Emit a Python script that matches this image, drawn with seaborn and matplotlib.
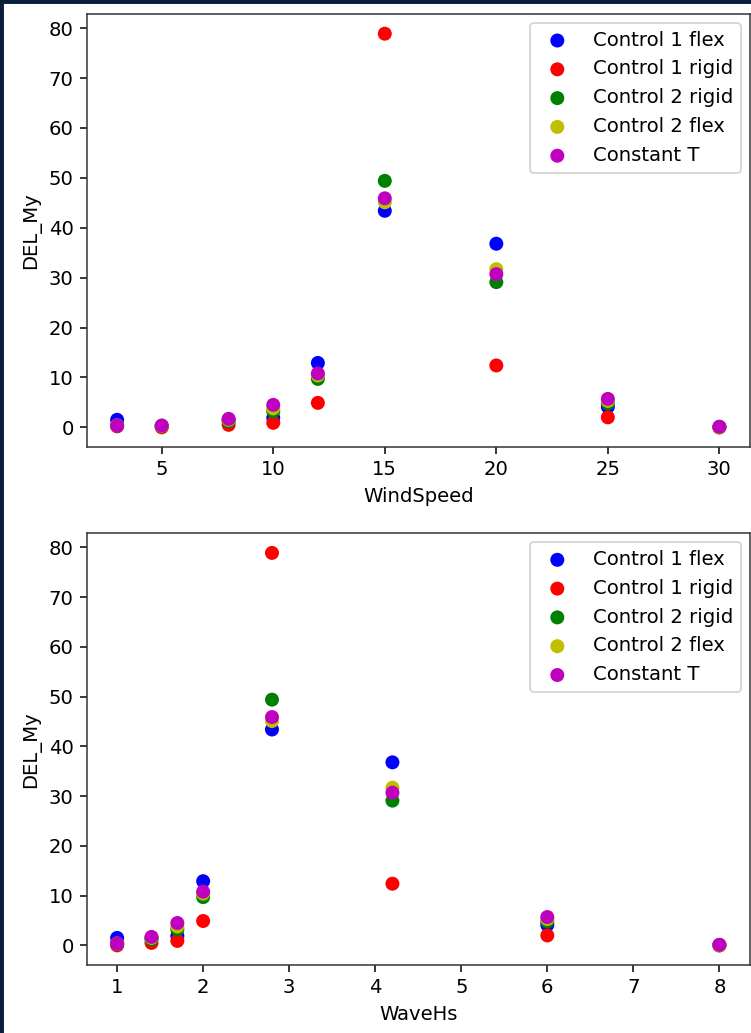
import matplotlib
matplotlib.use("Agg")
import matplotlib.pyplot as plt
from matplotlib.patches import Rectangle
import seaborn as sns
import pandas as pd

# ---- data ----
wind_speed = [3, 5, 8, 10, 12, 15, 20, 25, 30]
wave_hs = [1, 1, 1.4, 1.7, 2, 2.8, 4.2, 6, 8]

series_names = ["Control 1 flex", "Control 1 rigid", "Control 2 rigid",
                "Control 2 flex", "Constant T"]
series_colors = ["b", "r", "g", "y", "m"]

control1_flex = [1.5, 0.3, 1.5, 1.9, 12.9, 43.4, 36.8, 4.1, 0.1]
control1_rigid = [0.2, 0.0, 0.5, 0.9, 4.9, 78.9, 12.4, 2.0, 0.0]
control2_rigid = [0.3, 0.2, 1.2, 3.2, 9.7, 49.4, 29.1, 4.8, 0.0]
control2_flex = [0.4, 0.3, 1.5, 3.8, 10.4, 45.1, 31.7, 5.3, 0.0]
constant_t = [0.35, 0.35, 1.7, 4.5, 10.8, 45.9, 30.7, 5.7, 0.1]

all_values = [control1_flex, control1_rigid, control2_rigid, control2_flex, constant_t]

rows = []
for name, vals in zip(series_names, all_values):
    for ws, hs, v in zip(wind_speed, wave_hs, vals):
        rows.append({"WindSpeed": ws, "WaveHs": hs, "DEL_My": v, "series": name})
df = pd.DataFrame(rows)

plt.rcParams["font.size"] = 10.3

# ---- figure ----
W, H, DPI = 751, 1033, 137
fig = plt.figure(figsize=(W / DPI, H / DPI), dpi=DPI)
fig.patch.set_facecolor("white")

ax1 = fig.add_axes([87 / W, 1 - 447 / H, (749.5 - 87) / W, (447 - 14) / H])
ax2 = fig.add_axes([87 / W, 1 - 965 / H, (749.5 - 87) / W, (965 - 533.3) / H])

for ax, xcol in ((ax1, "WindSpeed"), (ax2, "WaveHs")):
    for name, col in zip(series_names, series_colors):
        sub = df[df["series"] == name]
        sns.scatterplot(data=sub, x=xcol, y="DEL_My", color=col, label=name,
                        s=54, linewidth=0, edgecolor="none", ax=ax)
    ax.legend(loc="upper right", borderaxespad=0.45)
    ax.set_xlabel(xcol)
    ax.set_ylabel("DEL_My")
    for sp in ax.spines.values():
        sp.set_color("#333333")

ax1.set_xticks([5, 10, 15, 20, 25, 30])
ax2.set_xticks([1, 2, 3, 4, 5, 6, 7, 8])

# dark frame strips (screenshot border)
navy = "#0b1d3d"
fig.patches.append(Rectangle((0, 0), 3 / W, 1, transform=fig.transFigure,
                             color=navy, zorder=10))
fig.patches.append(Rectangle((0, 1 - 3 / H), 1, 3 / H, transform=fig.transFigure,
                             color=navy, zorder=10))

fig.savefig("out.png", dpi=DPI)
